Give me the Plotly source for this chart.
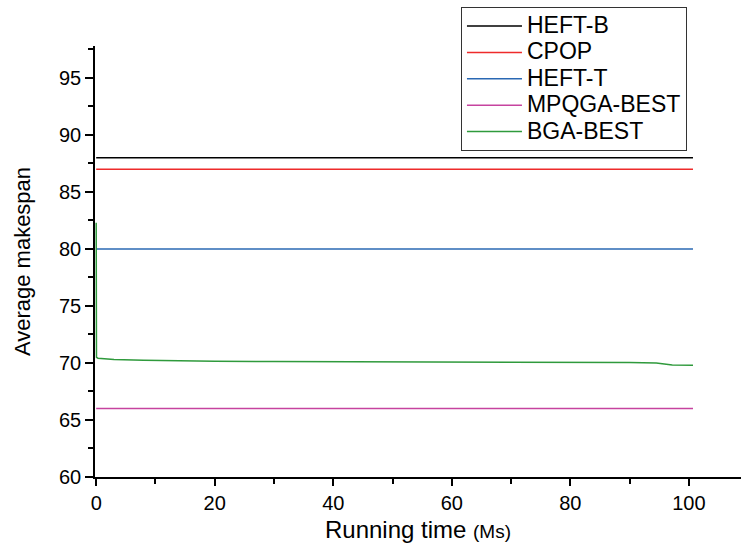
import plotly.graph_objects as go

# Data
line_x = [0, 100.7]
heft_b = [88.0, 88.0]
cpop = [87.0, 87.0]
heft_t = [80.0, 80.0]
mpqga_best = [66.0, 66.0]

bga_x = [0, 0.05, 0.3, 1, 3, 8, 13, 20, 30, 45, 60, 75, 85, 90, 94.5, 96, 97.2, 100.7]
bga_y = [82.3, 70.5, 70.42, 70.38, 70.3, 70.25, 70.2, 70.15, 70.12, 70.1, 70.1, 70.1, 70.08, 70.05, 70.0, 69.9, 69.82, 69.8]

series = [
    ("HEFT-B", line_x, heft_b, "#000000"),
    ("CPOP", line_x, cpop, "#ee2b2b"),
    ("HEFT-T", line_x, heft_t, "#2a68b3"),
    ("MPQGA-BEST", line_x, mpqga_best, "#c6439f"),
    ("BGA-BEST", bga_x, bga_y, "#2f9a3c"),
]

fig = go.Figure()
for name, xs, ys, col in series:
    fig.add_trace(go.Scatter(x=xs, y=ys, mode="lines",
                             name="<span style='font-size:23px'>%s</span>" % name,
                             line=dict(color=col, width=1.5)))

font = "Liberation Sans, Arial, sans-serif"
fig.update_layout(
    width=741, height=546,
    margin=dict(l=95, r=0, t=46, b=69),
    paper_bgcolor="white", plot_bgcolor="white",
    font=dict(family=font, color="black", size=17),
    showlegend=True,
    legend=dict(
        x=0.5665, y=1.091, xanchor="left", yanchor="top",
        bordercolor="#333", borderwidth=1, bgcolor="white",
        font=dict(size=18, family=font),
        itemwidth=55, tracegroupgap=0,
    ),
    xaxis=dict(
        range=[-0.2, 108.8], showgrid=False, zeroline=False,
        showline=True, linecolor="black", linewidth=1.5,
        ticks="outside", ticklen=7, tickwidth=1.5, tickcolor="black",
        tickvals=[0, 20, 40, 60, 80, 100],
        minor=dict(tickvals=[10, 30, 50, 70, 90], ticks="outside", ticklen=5, tickwidth=1.5, tickcolor="black"),
        tickfont=dict(size=20),
        title=dict(text="Running time <span style='font-size:19px'>(Ms)</span>", font=dict(size=24), standoff=8),
    ),
    yaxis=dict(
        range=[60, 97.8], showgrid=False, zeroline=False,
        showline=True, linecolor="black", linewidth=1.5,
        ticks="outside", ticklen=8, tickwidth=1.5, tickcolor="black",
        tickvals=[60, 65, 70, 75, 80, 85, 90, 95],
        minor=dict(tickvals=[62.5, 67.5, 72.5, 77.5, 82.5, 87.5, 92.5, 97.5], ticks="outside", ticklen=5, tickwidth=1.5, tickcolor="black"),
        tickfont=dict(size=20),
        title=dict(text="Average makespan", font=dict(size=22), standoff=22),
    ),
)

fig.write_html("out.html")
